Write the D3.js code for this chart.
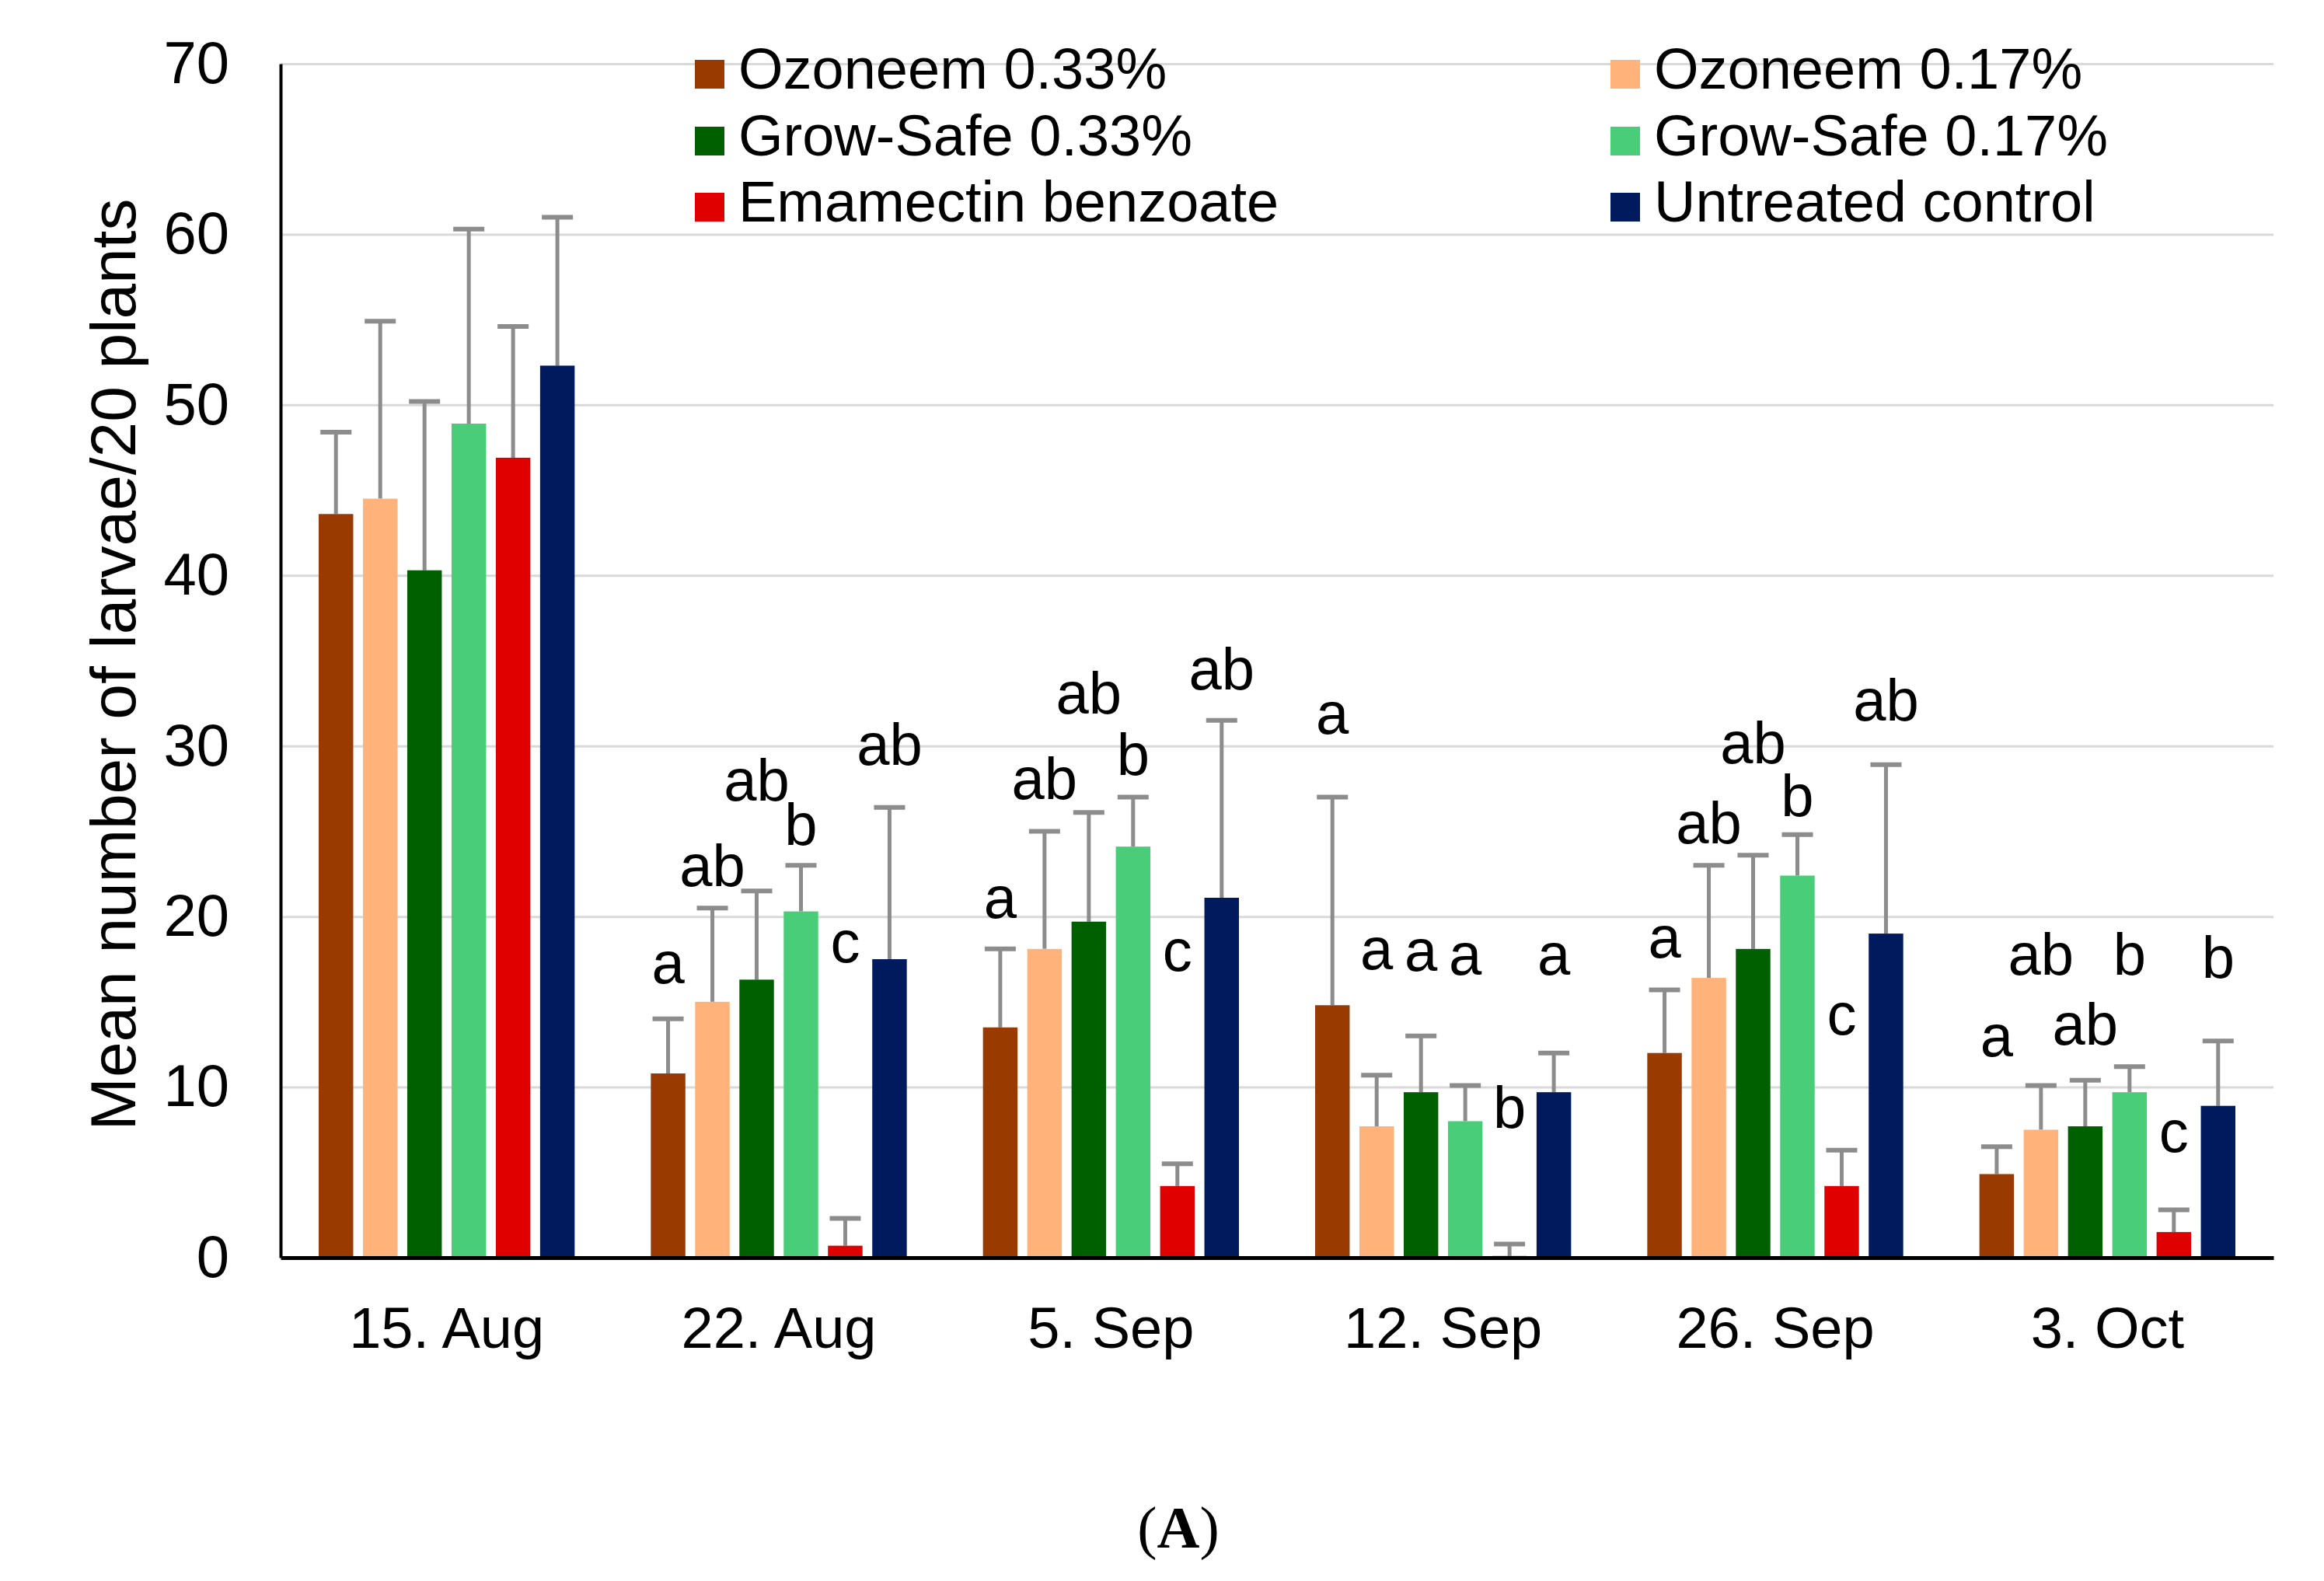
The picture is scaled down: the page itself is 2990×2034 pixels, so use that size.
<!DOCTYPE html>
<html>
<head>
<meta charset="utf-8">
<script src="https://cdn.jsdelivr.net/npm/d3@7"></script>
<style>
  html, body { margin: 0; padding: 0; background: #ffffff; }
  svg { display: block; }
  text { font-family: "Liberation Sans", Arial, sans-serif; fill: #000; }
</style>
</head>
<body>
<svg id="chart" width="2990" height="2034"></svg>
<script>
// ---------------- data ----------------
const categories = ["15. Aug", "22. Aug", "5. Sep", "12. Sep", "26. Sep", "3. Oct"];
const seriesNames = ["Ozoneem 0.33%", "Ozoneem 0.17%", "Grow-Safe 0.33%", "Grow-Safe 0.17%", "Emamectin benzoate", "Untreated control"];

const ozoneem033  = [43.6, 10.8, 13.5, 14.8, 12.0, 4.9];
const ozoneem017  = [44.5, 15.0, 18.1, 7.7, 16.4, 7.5];
const growSafe033 = [40.3, 16.3, 19.7, 9.7, 18.1, 7.7];
const growSafe017 = [48.9, 20.3, 24.1, 8.0, 22.4, 9.7];
const emamectin   = [46.9, 0.7, 4.2, 0.1, 4.2, 1.5];
const control     = [52.3, 17.5, 21.1, 9.7, 19.0, 8.9];

// standard errors (upper whisker only)
const seOzoneem033  = [4.8, 3.2, 4.6, 12.2, 3.7, 1.6];
const seOzoneem017  = [10.4, 5.5, 6.9, 3.0, 6.6, 2.6];
const seGrowSafe033 = [9.9, 5.2, 6.4, 3.3, 5.5, 2.7];
const seGrowSafe017 = [11.4, 2.7, 2.9, 2.1, 2.4, 1.5];
const seEmamectin   = [7.7, 1.6, 1.3, 0.7, 2.1, 1.3];
const seControl     = [8.7, 8.9, 10.4, 2.3, 9.9, 3.8];

// significance letters and the value level at which each letter sits
const lettersOzoneem033  = ["", "a", "a", "a", "a", "a"];
const lettersOzoneem017  = ["", "ab", "ab", "a", "ab", "ab"];
const lettersGrowSafe033 = ["", "ab", "ab", "a", "ab", "ab"];
const lettersGrowSafe017 = ["", "b", "b", "a", "b", "b"];
const lettersEmamectin   = ["", "c", "c", "b", "c", "c"];
const lettersControl     = ["", "ab", "ab", "a", "ab", "b"];

const letterLevelOzoneem033  = [null, 16.1, 19.9, 30.7, 17.6, 11.8];
const letterLevelOzoneem017  = [null, 21.8, 26.9, 16.9, 24.3, 16.6];
const letterLevelGrowSafe033 = [null, 26.8, 31.9, 16.8, 29.0, 12.5];
const letterLevelGrowSafe017 = [null, 24.2, 28.3, 16.6, 25.9, 16.6];
const letterLevelEmamectin   = [null, 17.3, 16.8, 7.6, 13.1, 6.2];
const letterLevelControl     = [null, 28.9, 33.3, 16.6, 31.5, 16.4];

const yTicks = [0, 10, 20, 30, 40, 50, 60, 70];
const yTitle = "Mean number of larvae/20 plants";
const panelLabel = "A";

// ---------------- styles ----------------
const colors = ["#993B00", "#FFB27A", "#006000", "#4ACD78", "#E00000", "#001A5E"];

(function () {
// ---------------- assemble ----------------
const means   = [ozoneem033, ozoneem017, growSafe033, growSafe017, emamectin, control];
const ses     = [seOzoneem033, seOzoneem017, seGrowSafe033, seGrowSafe017, seEmamectin, seControl];
const letters = [lettersOzoneem033, lettersOzoneem017, lettersGrowSafe033, lettersGrowSafe017, lettersEmamectin, lettersControl];
const levels  = [letterLevelOzoneem033, letterLevelOzoneem017, letterLevelGrowSafe033, letterLevelGrowSafe017, letterLevelEmamectin, letterLevelControl];

const records = [];
categories.forEach((c, ci) => {
  seriesNames.forEach((s, si) => {
    records.push({
      cat: c, series: s, si: si,
      mean: means[si][ci], se: ses[si][ci],
      letter: letters[si][ci], level: levels[si][ci]
    });
  });
});

// ---------------- layout ----------------
const mLeft = 361, mRight = 2925, mTop = 82, mBottom = 1618;

const svg = d3.select("#chart");
svg.append("rect").attr("width", 2990).attr("height", 2034).attr("fill", "#fff");

const x0 = d3.scaleBand().domain(categories).range([mLeft, mRight]).paddingInner(0.2).paddingOuter(0.1);
const x1 = d3.scaleBand().domain(seriesNames).range([0, x0.bandwidth()]).paddingInner(0.22).paddingOuter(0.11);
const y = d3.scaleLinear().domain([0, 70]).range([mBottom, mTop]);

// gridlines
const grid = svg.append("g")
  .attr("transform", `translate(${mLeft},0)`)
  .call(d3.axisLeft(y).tickValues(yTicks.filter(t => t > 0)).tickSize(-(mRight - mLeft)).tickFormat(""));
grid.select(".domain").remove();
grid.selectAll(".tick line").attr("stroke", "#d9d9d9").attr("stroke-width", 3);

// y axis
const yAxis = svg.append("g")
  .attr("transform", `translate(${mLeft},0)`)
  .call(d3.axisLeft(y).tickValues(yTicks).tickSize(0).tickPadding(66));
yAxis.select(".domain").attr("stroke", "#000").attr("stroke-width", 4);
yAxis.selectAll(".tick text")
  .style("font-family", '"Liberation Sans", Arial, sans-serif')
  .attr("font-size", 76).attr("fill", "#000");

// y title
svg.append("text")
  .attr("transform", `translate(${174},${855}) rotate(-90)`)
  .attr("text-anchor", "middle")
  .attr("font-size", 82)
  .text(yTitle);

// error bars (drawn before bars)
const eb = svg.append("g").selectAll("g.eb").data(records).join("g").attr("class", "eb");
eb.append("line")
  .attr("x1", d => x0(d.cat) + x1(d.series) + x1.bandwidth() / 2)
  .attr("x2", d => x0(d.cat) + x1(d.series) + x1.bandwidth() / 2)
  .attr("y1", d => y(d.mean))
  .attr("y2", d => y(d.mean + d.se))
  .attr("stroke", "#8c8c8c").attr("stroke-width", 5);
eb.append("line")
  .attr("x1", d => x0(d.cat) + x1(d.series) + x1.bandwidth() / 2 - 20)
  .attr("x2", d => x0(d.cat) + x1(d.series) + x1.bandwidth() / 2 + 20)
  .attr("y1", d => y(d.mean + d.se))
  .attr("y2", d => y(d.mean + d.se))
  .attr("stroke", "#8c8c8c").attr("stroke-width", 6);

// bars
svg.append("g").selectAll("rect").data(records).join("rect")
  .attr("x", d => x0(d.cat) + x1(d.series))
  .attr("width", x1.bandwidth())
  .attr("y", d => y(d.mean))
  .attr("height", d => y(0) - y(d.mean))
  .attr("fill", d => colors[d.si]);

// letters
svg.append("g").selectAll("text").data(records.filter(d => d.letter)).join("text")
  .attr("x", d => x0(d.cat) + x1(d.series) + x1.bandwidth() / 2)
  .attr("y", d => y(d.level))
  .attr("text-anchor", "middle")
  .attr("font-size", 76)
  .text(d => d.letter);

// x axis
const xAxis = svg.append("g")
  .attr("transform", `translate(0,${mBottom})`)
  .call(d3.axisBottom(x0).tickSize(0).tickPadding(63).tickSizeOuter(0));
xAxis.select(".domain").attr("stroke", "#000").attr("stroke-width", 5);
xAxis.selectAll(".tick text")
  .style("font-family", '"Liberation Sans", Arial, sans-serif')
  .attr("font-size", 74).attr("fill", "#000");

// legend
const legendCols = [894, 2072];
const legendRows = [77, 163, 248];
const legend = svg.append("g").selectAll("g").data(seriesNames).join("g")
  .attr("transform", (d, i) => `translate(${legendCols[i % 2]},${legendRows[Math.floor(i / 2)]})`);
legend.append("rect").attr("width", 38).attr("height", 37).attr("fill", (d, i) => colors[i]);
legend.append("text").attr("x", 56).attr("y", 37).attr("font-size", 74).text(d => d);

// panel label
const pl = svg.append("text")
  .attr("x", 1516).attr("y", 1991)
  .attr("text-anchor", "middle")
  .attr("font-size", 76)
  .style("font-family", '"Liberation Serif", "Times New Roman", serif');
pl.append("tspan").text("(");
pl.append("tspan").attr("font-weight", "bold").text(panelLabel);
pl.append("tspan").text(")");
})();
</script>
</body>
</html>
